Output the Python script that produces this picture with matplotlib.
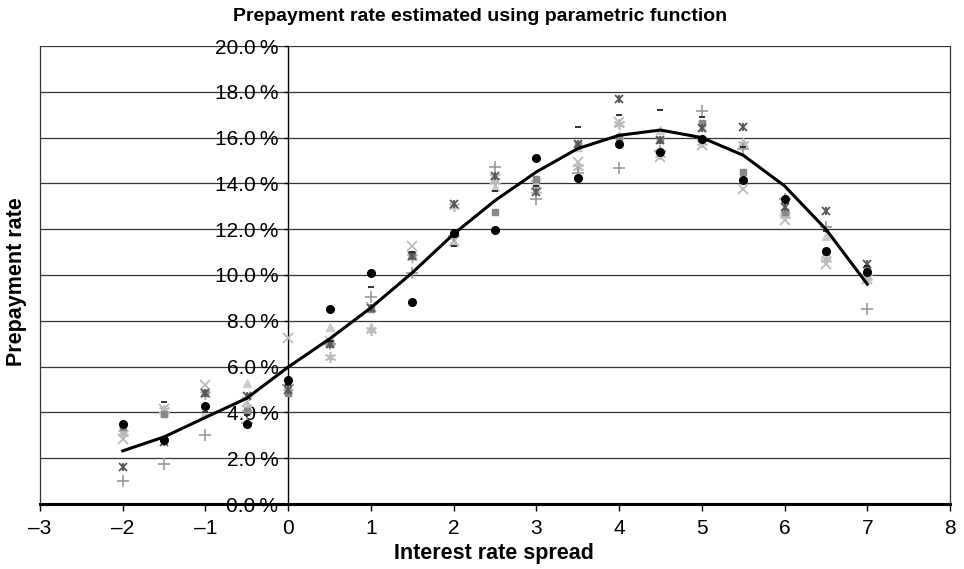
import matplotlib
matplotlib.use("Agg")
import matplotlib.pyplot as plt
import numpy as np

plt.rcParams['font.family'] = ['Liberation Sans', 'DejaVu Sans']

x_vals = [-2, -1.5, -1, -0.5, 0, 0.5, 1, 1.5, 2, 2.5, 3, 3.5, 4, 4.5, 5, 5.5, 6, 6.5, 7]

s_circle   = [3.5, 2.8, 4.28, 3.5, 5.4, 8.5, 10.08, 8.84, 11.84, 11.97, 15.09, 14.24, 15.74, 15.38, 15.93, 14.13, 13.33, 11.06, 10.15]
s_square   = [3.35, 3.95, 4.85, 4.05, 4.85, 7.0, 8.5, 10.85, 11.8, 12.75, 14.2, 15.7, 16.04, 15.9, 16.62, 14.5, 12.77, 11.0, 10.2]
s_triangle = [3.2, 4.0, 4.0, 5.3, 5.35, 7.75, 7.75, 10.9, 11.45, 13.84, 14.0, 15.6, 16.1, 16.35, 16.45, 15.82, 12.9, 11.72, 10.0]
s_xlight   = [2.85, 4.15, 5.2, 4.45, 7.25, 7.1, 8.6, 11.25, 11.5, 14.2, 13.94, 14.94, 16.7, 15.16, 15.67, 13.77, 12.38, 10.5, 9.82]
s_star     = [1.6, 2.7, 4.85, 4.7, 5.0, 7.0, 8.55, 10.82, 13.08, 14.33, 13.62, 15.7, 17.68, 15.89, 16.4, 16.48, 12.96, 12.8, 10.47]
s_asterisk = [3.1, 4.1, 4.8, 4.2, 5.1, 6.4, 7.62, 10.8, 13.0, 14.1, 13.7, 14.7, 16.6, 15.3, 15.8, 15.7, 12.6, 10.7, 9.9]
s_plus     = [1.0, 1.75, 3.0, 3.55, 5.2, 7.0, 9.02, 10.1, 11.7, 14.72, 13.3, 14.47, 14.68, 15.4, 17.14, 15.52, 13.3, 12.1, 8.5]
s_dash     = [3.6, 4.45, 4.0, 3.9, 5.2, 7.1, 9.47, 11.0, 11.25, 13.65, 13.9, 16.45, 16.99, 17.2, 16.9, 15.6, 13.2, 11.9, 10.4]

fitted = [2.32, 2.93, 3.78, 4.62, 5.98, 7.21, 8.57, 10.1, 11.79, 13.25, 14.5, 15.52, 16.1, 16.33, 16.0, 15.23, 13.89, 12.0, 9.6]

x_ticks = [-3, -2, -1, 0, 1, 2, 3, 4, 5, 6, 7, 8]
y_ticks = [0, 2, 4, 6, 8, 10, 12, 14, 16, 18, 20]

W, H = 964, 569
fig = plt.figure(figsize=(W / 100, H / 100), dpi=100)
ax = fig.add_axes([40 / W, 65 / H, 910 / W, 458 / H])
ax.set_xlim(-3, 8)
ax.set_ylim(0, 20)

# gridlines
for yv in y_ticks[1:]:
    ax.axhline(yv, color='#333333', lw=0.9, zorder=1)

ax.plot(x_vals, s_triangle, linestyle='none', marker='^', ms=6, color='#cccccc', zorder=3)
ax.plot(x_vals, s_xlight, linestyle='none', marker='x', ms=7, mew=1.3, color='#bbbbbb', zorder=3)
ax.plot(x_vals, s_asterisk, linestyle='none', marker=(6, 2, 0), ms=8, mew=1.2, color='#bbbbbb', zorder=3)
ax.plot(x_vals, s_plus, linestyle='none', marker='+', ms=8, mew=1.2, color='#999999', zorder=3)
ax.plot(x_vals, s_square, linestyle='none', marker='s', ms=5, color='#888888', zorder=3)
ax.plot(x_vals, s_star, linestyle='none', marker='x', ms=6, mew=1.3, color='#555555', zorder=4)
ax.plot(x_vals, s_star, linestyle='none', marker='|', ms=6, mew=1.3, color='#555555', zorder=4)
ax.plot(x_vals, s_dash, linestyle='none', marker='_', ms=4, mew=1.3, color='#222222', zorder=4)
ax.plot(x_vals, s_circle, linestyle='none', marker='o', ms=5.5, color='black', zorder=5)

ax.plot(x_vals, fitted, color='black', lw=2.2, zorder=6)

# spines
ax.spines['left'].set_position(('data', 0))
ax.spines['left'].set_linewidth(1.0)
ax.spines['top'].set_visible(False)
ax.spines['right'].set_linewidth(0.9)
ax.spines['right'].set_color('#333333')
ax.spines['bottom'].set_linewidth(2.2)
ax.plot([0, 0], [0, 1], transform=ax.transAxes, color='#333333', lw=0.9, clip_on=False)

ax.set_xticks(x_ticks)
ax.set_xticklabels([str(t).replace('-', '\u2013') for t in x_ticks], fontsize=15)
ax.set_yticks(y_ticks)
ax.set_yticklabels([f"{t:.1f}\u2009%" for t in y_ticks], fontsize=15)
ax.tick_params(axis='x', direction='out', length=5, width=1, pad=6)
ax.tick_params(axis='y', direction='out', length=3, width=1, pad=4)

fig.text(494 / W, 1 - 559 / H, 'Interest rate spread', fontsize=15.5,
         fontweight='bold', ha='center', va='baseline')
fig.text(16.5 / W, 1 - 282 / H, 'Prepayment rate', rotation=90, fontsize=15.5,
         fontweight='bold', ha='center', va='center')
fig.text(480 / W, 1 - 20.7 / H, 'Prepayment rate estimated using parametric function',
         fontsize=14, fontweight='bold', ha='center', va='baseline')

fig.savefig('out.png', dpi=100)
